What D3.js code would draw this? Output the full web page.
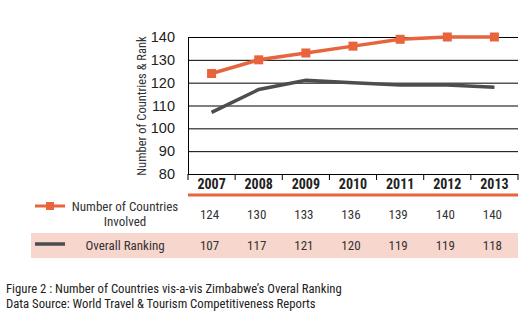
<!DOCTYPE html>
<html>
<head>
<meta charset="utf-8">
<script src="https://cdn.jsdelivr.net/npm/d3@7"></script>
<style>
  body { margin: 0; background: #fff; }
  svg { display: block; font-family: "Liberation Sans Narrow", "Roboto Condensed", "Liberation Sans", sans-serif; }
</style>
</head>
<body>
<div id="chart"></div>
<script>
const years = ["2007", "2008", "2009", "2010", "2011", "2012", "2013"]
const countries = [124, 130, 133, 136, 139, 140, 140]
const ranking = [107, 117, 121, 120, 119, 119, 118]
const yTicks = [80, 90, 100, 110, 120, 130, 140]
const captionLines = [
  "Figure 2 : Number of Countries vis-a-vis Zimbabwe’s Overal Ranking",
  "Data Source: World Travel & Tourism Competitiveness Reports"
]

const width = 529, height = 316
const orange = "#e8643c", grey = "#4d4d4d", pink = "#f7d6cd"

const x = d3.scaleBand().domain(years).range([188, 518]).padding(0)
const y = d3.scaleLinear().domain([80, 140]).range([174, 37])

const svg = d3.select("#chart").append("svg")
  .attr("width", width).attr("height", height)
  .attr("viewBox", [0, 0, width, height])

// gridlines + left tick labels
const yAxis = d3.axisLeft(y).tickValues(yTicks).tickSize(0).tickPadding(13)
svg.append("g")
  .attr("transform", "translate(188,0)")
  .call(yAxis)
  .call(g => g.select(".domain").attr("stroke", "#000"))
  .call(g => g.selectAll(".tick line").attr("x2", 330).attr("stroke", "#000"))
  .call(g => g.selectAll(".tick text").attr("font-size", 14.5).attr("fill", "#222")
    .attr("font-family", "inherit"))

// y title
svg.append("text")
  .attr("transform", "translate(146,106) rotate(-90)")
  .attr("text-anchor", "middle")
  .attr("font-size", 12.5)
  .attr("fill", "#333")
  .text("Number of Countries & Rank")

// bottom axis: ticks at band boundaries
svg.append("g").selectAll("line")
  .data(d3.range(years.length + 1))
  .join("line")
  .attr("x1", i => x.range()[0] + i * x.bandwidth())
  .attr("x2", i => x.range()[0] + i * x.bandwidth())
  .attr("y1", y(80)).attr("y2", y(80) + 6)
  .attr("stroke", "#000")

svg.append("g").selectAll("text")
  .data(years)
  .join("text")
  .attr("x", d => x(d) + x.bandwidth() / 2)
  .attr("y", 189)
  .attr("text-anchor", "middle")
  .attr("font-size", 14)
  .attr("font-weight", "bold")
  .attr("fill", "#222")
  .text(d => d)

svg.append("line")
  .attr("x1", 188).attr("x2", 518)
  .attr("y1", 195).attr("y2", 195)
  .attr("stroke", orange).attr("stroke-width", 3)

const cx = d => x(d) + x.bandwidth() / 2
const line = d3.line().x((d, i) => cx(years[i])).y(d => y(d))

svg.append("path")
  .datum(ranking)
  .attr("d", line)
  .attr("fill", "none")
  .attr("stroke", grey)
  .attr("stroke-width", 3.5)

svg.append("path")
  .datum(countries)
  .attr("d", line)
  .attr("fill", "none")
  .attr("stroke", orange)
  .attr("stroke-width", 3.5)

svg.append("g").selectAll("rect")
  .data(countries)
  .join("rect")
  .attr("x", (d, i) => cx(years[i]) - 4.5)
  .attr("y", d => y(d) - 4.5)
  .attr("width", 9).attr("height", 9)
  .attr("fill", orange)

// data table
svg.append("rect")
  .attr("x", 31).attr("y", 233).attr("width", 487).attr("height", 25)
  .attr("fill", pink)

const tbl = svg.append("g").attr("font-size", 13).attr("fill", "#333")

tbl.append("line").attr("x1", 35).attr("x2", 65).attr("y1", 206).attr("y2", 206)
  .attr("stroke", orange).attr("stroke-width", 3)
tbl.append("rect").attr("x", 46).attr("y", 202).attr("width", 8).attr("height", 8).attr("fill", orange)
tbl.append("text").attr("x", 125).attr("y", 211).attr("text-anchor", "middle").text("Number of Countries")
tbl.append("text").attr("x", 125).attr("y", 226).attr("text-anchor", "middle").text("Involved")

tbl.append("line").attr("x1", 35).attr("x2", 65).attr("y1", 244).attr("y2", 244)
  .attr("stroke", grey).attr("stroke-width", 3.5)
tbl.append("text").attr("x", 125).attr("y", 250).attr("text-anchor", "middle").text("Overall Ranking")

tbl.append("g").selectAll("text")
  .data(countries)
  .join("text")
  .attr("x", (d, i) => cx(years[i]) - 2)
  .attr("y", 219)
  .attr("text-anchor", "middle")
  .text(d => d)

tbl.append("g").selectAll("text")
  .data(ranking)
  .join("text")
  .attr("x", (d, i) => cx(years[i]) - 2)
  .attr("y", 250)
  .attr("text-anchor", "middle")
  .text(d => d)

// caption
svg.append("g").selectAll("text")
  .data(captionLines)
  .join("text")
  .attr("x", 6)
  .attr("y", (d, i) => 293 + i * 15)
  .attr("font-size", 12.7)
  .attr("fill", "#222")
  .text(d => d)
</script>
</body>
</html>
